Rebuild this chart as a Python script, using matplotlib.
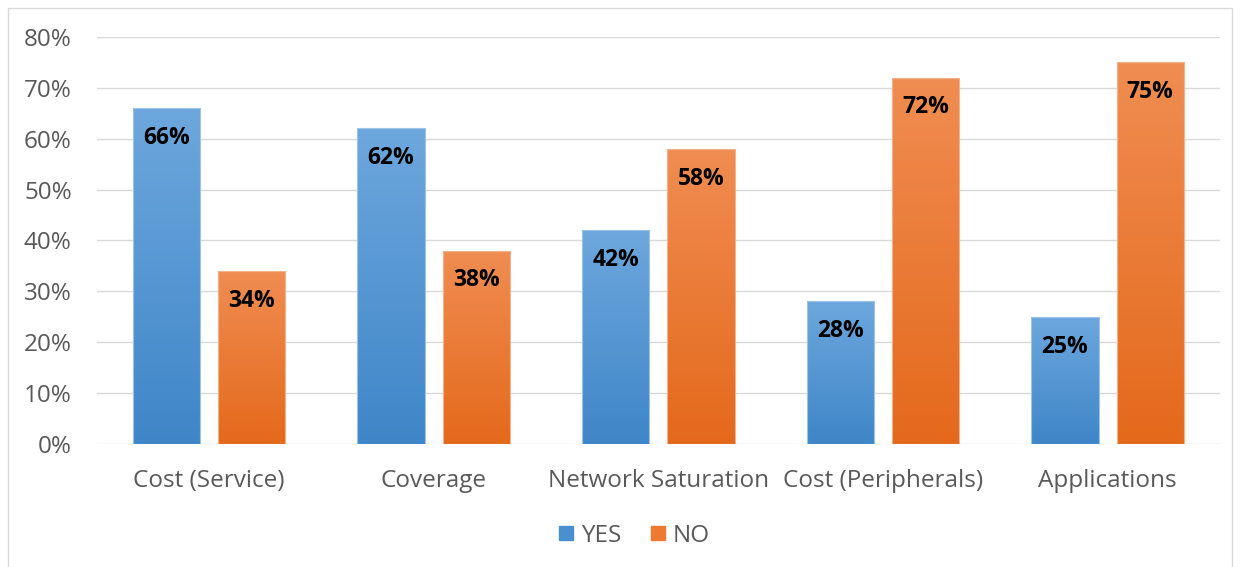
import numpy as np
import matplotlib
matplotlib.use("Agg")
import matplotlib.pyplot as plt
from matplotlib.patches import Rectangle
from matplotlib.colors import LinearSegmentedColormap
from matplotlib.lines import Line2D

categories = ["Cost (Service)", "Coverage", "Network Saturation", "Cost (Peripherals)", "Applications"]
yes_values = [66, 62, 42, 28, 25]
no_values = [34, 38, 58, 72, 75]
series_names = ["YES", "NO"]
y_ticks = [0, 10, 20, 30, 40, 50, 60, 70, 80]

plt.rcParams["font.family"] = ["Open Sans", "DejaVu Sans"]

fig = plt.figure(figsize=(12.41, 5.67), dpi=100)
ax = fig.add_axes([0.078, 0.217, 0.905, 0.718])

# light frame around the chart area
fig.patches.append(Rectangle((8 / 1241, -0.01), 1224 / 1241, 1 - 8 / 567 + 0.01,
                             transform=fig.transFigure, fill=False,
                             edgecolor="#d9d9d9", linewidth=1.0))

x = np.arange(len(categories))
width = 0.30
offset = 0.19

blue_cmap = LinearSegmentedColormap.from_list("blue", ["#3f86c8", "#6da7dd"])
orange_cmap = LinearSegmentedColormap.from_list("orange", ["#e4691b", "#f08d52"])


def gradient_bars(positions, values, cmap, edge):
    bars = ax.bar(positions, values, width, color="none", edgecolor="none", zorder=3)
    for bar in bars:
        x0, y0 = bar.get_x(), bar.get_y()
        w, h = bar.get_width(), bar.get_height()
        grad = np.linspace(0, 1, 256).reshape(-1, 1)
        im = ax.imshow(grad, cmap=cmap, origin="lower", aspect="auto",
                       extent=[x0, x0 + w, y0, y0 + h], zorder=3)
        im.set_clip_path(Rectangle((x0, y0), w, h, transform=ax.transData))
        ax.add_patch(Rectangle((x0, y0), w, h, fill=False, edgecolor=edge,
                               linewidth=0.8, zorder=4))
    return bars


gradient_bars(x - offset, yes_values, blue_cmap, "#9cc3e8")
gradient_bars(x + offset, no_values, orange_cmap, "#f5b28a")

for positions, values in ((x - offset, yes_values), (x + offset, no_values)):
    for pos, val in zip(positions, values):
        ax.annotate(f"{val}%", (pos, val), xytext=(0, -21.5), textcoords="offset points",
                    ha="center", va="center", fontsize=16.5, fontweight="bold",
                    color="#000000", zorder=5)

ax.set_xlim(-0.5, len(categories) - 0.5)
ax.set_ylim(0, 80)
ax.set_yticks(y_ticks)
ax.set_yticklabels([f"{t}%" for t in y_ticks])
ax.set_xticks(x)
ax.set_xticklabels(categories)
ax.tick_params(axis="both", length=0, labelsize=17.5, labelcolor="#595959")
ax.tick_params(axis="y", pad=18)
ax.tick_params(axis="x", pad=18)
ax.grid(axis="y", color="#d9d9d9", linewidth=1.0, zorder=0)
ax.set_axisbelow(True)
for s in ax.spines.values():
    s.set_visible(False)

handles = [
    Line2D([], [], marker="s", linestyle="none", markersize=10,
           markerfacecolor="#4a8fd0", markeredgecolor="#4a8fd0"),
    Line2D([], [], marker="s", linestyle="none", markersize=10,
           markerfacecolor="#ee7a30", markeredgecolor="#ee7a30"),
]
fig.legend(handles, series_names, loc="center", bbox_to_anchor=(0.51, 0.055),
           ncol=2, frameon=False, fontsize=17.5, labelcolor="#595959",
           handletextpad=0.2, columnspacing=1.1, handlelength=0.8)

fig.savefig("out.png", dpi=100)
